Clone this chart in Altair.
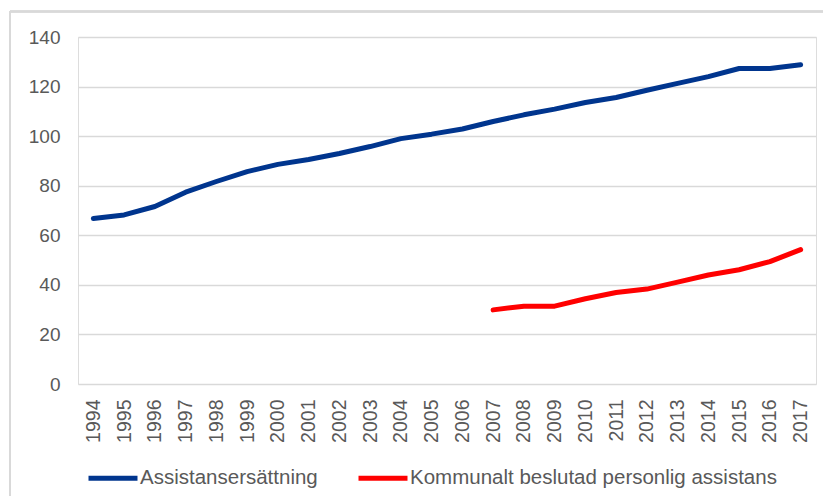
import altair as alt
import pandas as pd

years = [str(y) for y in range(1994, 2018)]
assistans = [66.8, 68.2, 71.6, 77.4, 81.7, 85.7, 88.6, 90.6, 93.0, 95.8, 99.0,
             100.8, 102.9, 105.9, 108.6, 110.9, 113.6, 115.6, 118.5, 121.3, 124.0,
             127.3, 127.3, 128.8]
kommunalt = [None] * 13 + [29.9, 31.4, 31.4, 34.4, 36.9, 38.3, 41.1, 44.0, 46.1, 49.4, 54.2]

series_names = ["Assistansersättning", "Kommunalt beslutad personlig assistans"]
series_colors = ["#00358E", "#FF0000"]

rows = []
for y, a, k in zip(years, assistans, kommunalt):
    rows.append({"year": y, "series": series_names[0], "value": a})
    if k is not None:
        rows.append({"year": y, "series": series_names[1], "value": k})
df = pd.DataFrame(rows)

FONT = "Liberation Sans"
GRAY = "#595959"
GRID = "#D9D9D9"

lines = alt.Chart(df).mark_line(strokeWidth=5, strokeCap="round", strokeJoin="round").encode(
    x=alt.X("year:O", sort=years, title=None,
            axis=alt.Axis(labelAngle=-90, labelFontSize=19.5, labelColor=GRAY, labelFont=FONT,
                          labelPadding=15, ticks=False, domain=False, grid=False)),
    y=alt.Y("value:Q", title=None, scale=alt.Scale(domain=[0, 140], nice=False),
            axis=alt.Axis(values=[0, 20, 40, 60, 80, 100, 120, 140], labelFontSize=19,
                          labelColor=GRAY, labelFont=FONT, labelPadding=18, ticks=False,
                          domain=False, grid=True, gridColor=GRID, gridWidth=1.5)),
    color=alt.Color("series:N",
                    scale=alt.Scale(domain=series_names, range=series_colors),
                    legend=alt.Legend(title=None, orient="none", legendX=8, legendY=414,
                                      direction="horizontal", symbolType="stroke",
                                      symbolSize=2400, symbolStrokeWidth=5,
                                      labelFontSize=20.5, labelFont=FONT, labelColor=GRAY,
                                      labelLimit=1000, labelOffset=0, columnPadding=30)),
)

frame_h = alt.Chart(df).mark_rule(color=GRID, strokeWidth=1.5).encode(
    x=alt.value(-68), x2=alt.value(760), y=alt.value(-25.5))
frame_v = alt.Chart(df).mark_rule(color=GRID, strokeWidth=1.5).encode(
    x=alt.value(-68), y=alt.value(-25.5), y2=alt.value(500))

chart = alt.layer(frame_h, frame_v, lines).properties(
    width=738, height=347,
    autosize=alt.AutoSizeParams(type="none"),
    padding={"left": 70, "top": 29, "right": 7, "bottom": 112},
).configure_view(strokeWidth=0, stroke="transparent").configure(background="white")

chart.save("out.html", embed_options={"renderer": "svg", "actions": False})
